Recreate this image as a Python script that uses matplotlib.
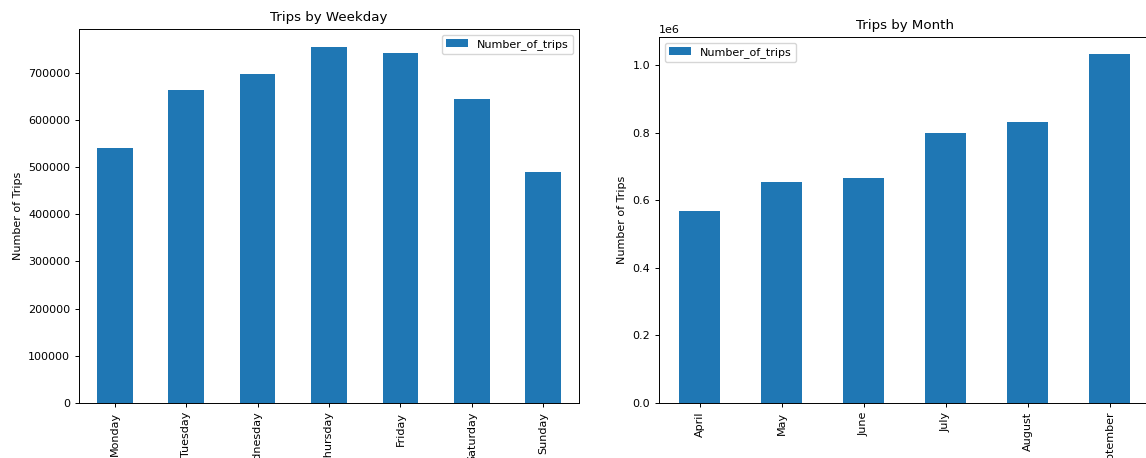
import matplotlib
matplotlib.use("Agg")
import matplotlib.pyplot as plt
import pandas as pd

# trips per weekday / per month
weekdays = ['Monday', 'Tuesday', 'Wednesday', 'Thursday', 'Friday', 'Saturday', 'Sunday']
weekday_trips = [541000, 664500, 697000, 755000, 742000, 645000, 490000]

months = ['April', 'May', 'June', 'July', 'August', 'September']
month_trips = [568000, 654000, 666000, 799000, 831000, 1032000]

plt.rcParams.update({
    'font.size': 8,
    'axes.titlesize': 9.6,
    'axes.labelsize': 8,
    'legend.fontsize': 8,
    'xtick.labelsize': 8,
    'ytick.labelsize': 8,
    'axes.linewidth': 0.7,
    'xtick.major.size': 2.8,
    'ytick.major.size': 2.8,
    'xtick.major.width': 0.7,
    'ytick.major.width': 0.7,
})

W, H = 1146, 458
fig = plt.figure(figsize=(W / 100, H / 100), dpi=100)
ax1 = fig.add_axes([79 / W, (H - 403) / H, 500 / W, 374 / H])
ax2 = fig.add_axes([659 / W, (H - 403) / H, 492 / W, 366 / H])

df_week = pd.DataFrame({'Number_of_trips': weekday_trips}, index=weekdays)
df_month = pd.DataFrame({'Number_of_trips': month_trips}, index=months)

df_week.plot(kind='bar', ax=ax1, legend=False)
ax1.set_title('Trips by Weekday')
ax1.set_ylabel('Number of Trips')
ax1.legend(loc='upper right')

df_month.plot(kind='bar', ax=ax2, legend=False)
ax2.set_title('Trips by Month')
ax2.set_ylabel('Number of Trips')
ax2.legend(loc='upper left')

fig.savefig('out.png', dpi=100)
